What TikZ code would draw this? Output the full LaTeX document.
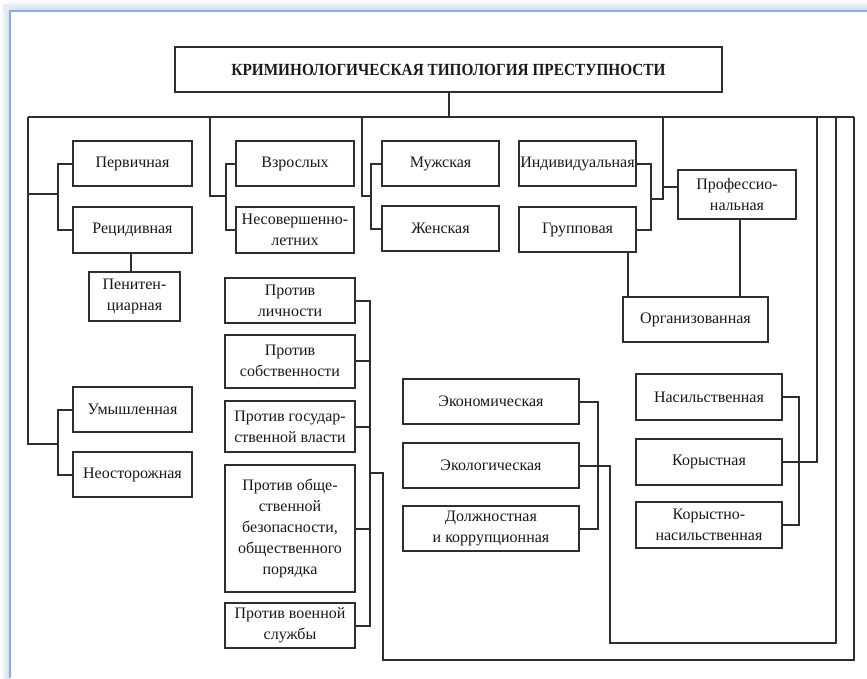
\documentclass[tikz,border=0pt]{standalone}
\usepackage{fontspec}
\setmainfont{Liberation Serif}
\definecolor{ln}{HTML}{2E2E2E}
\definecolor{frm}{HTML}{8FADDC}
\definecolor{glow}{HTML}{D0DEF3}
\begin{document}
\begin{tikzpicture}[x=1pt,y=-1pt,
  bx/.style={draw=ln, line width=2pt, fill=white, align=center, inner sep=1pt,
    font=\fontsize{16}{21}\selectfont, text=black!90},
  cn/.style={draw=ln, line width=2pt}]
\fill[white] (0,0) rectangle (867,678);
\useasboundingbox (0,0) rectangle (867,678);
% page frame with glow
\shade[left color=white, right color=glow] (0,10) rectangle (9,678);
\shade[top color=white, bottom color=glow] (9,0) rectangle (867,10);
\fill[glow!60] (3,4) rectangle (10,11);
\draw[frm, line width=2.4pt] (10,678) -- (10,11) -- (867,11);

% nodes
\node[bx, minimum width=547, minimum height=45] (title) at (448.5,69.5)
  {\fontsize{17}{19}\selectfont\bfseries\scalebox{0.9}[1]{КРИМИНОЛОГИЧЕСКАЯ ТИПОЛОГИЯ ПРЕСТУПНОСТИ}};
\node[bx, minimum width=119, minimum height=45] (perv) at (132.5,163.5) {Первичная};
\node[bx, minimum width=119, minimum height=46] (recid) at (132.5,230) {Рецидивная};
\node[bx, minimum width=91, minimum height=49] (penit) at (134.5,296.5) {Пенитен-\\циарная};
\node[bx, minimum width=119, minimum height=45] (umysh) at (132.5,409.5) {Умышленная};
\node[bx, minimum width=119, minimum height=45] (neost) at (132.5,474.5) {Неосторожная};
\node[bx, minimum width=118, minimum height=45] (vzr) at (295,163.5) {Взрослых};
\node[bx, minimum width=118, minimum height=46] (nesov) at (295,230) {Несовершенно-\\летних};
\node[bx, minimum width=130, minimum height=45] (pl) at (290,300.5) {Против\\личности};
\node[bx, minimum width=130, minimum height=53] (ps) at (290,361) {Против\\собственности};
\node[bx, minimum width=130, minimum height=51] (pg) at (290,426.5) {Против государ-\\ственной власти};
\node[bx, minimum width=130, minimum height=127] (po) at (290,528.5) {Против обще-\\ственной\\безопасности,\\общественного\\порядка};
\node[bx, minimum width=130, minimum height=45] (pv) at (290,625.5) {Против военной\\службы};
\node[bx, minimum width=117, minimum height=45] (muzh) at (440.5,163.5) {Мужская};
\node[bx, minimum width=117, minimum height=45] (zhen) at (440.5,228.5) {Женская};
\node[bx, minimum width=117, minimum height=45] (indiv) at (577.5,163.5) {Индивидуальная};
\node[bx, minimum width=117, minimum height=45] (grupp) at (577.5,229.5) {Групповая};
\node[bx, minimum width=118, minimum height=49] (prof) at (737,194.5) {Профессио-\\нальная};
\node[bx, minimum width=145, minimum height=45] (org) at (695.5,319.5) {Организованная};
\node[bx, minimum width=176, minimum height=45] (econ) at (491,401.5) {Экономическая};
\node[bx, minimum width=176, minimum height=45] (ecol) at (491,465.5) {Экологическая};
\node[bx, minimum width=176, minimum height=45] (dolzh) at (491,528.5) {Должностная\\и коррупционная};
\node[bx, minimum width=146, minimum height=46] (nas) at (709,397) {Насильственная};
\node[bx, minimum width=146, minimum height=46] (kor) at (709,462) {Корыстная};
\node[bx, minimum width=146, minimum height=46] (kornas) at (709,525) {Корыстно-\\насильственная};

% bus coordinates
\coordinate (tl) at (28,117);
\coordinate (tr) at (854,117);
\coordinate (c2) at (210,117);
\coordinate (c3) at (362,117);
\coordinate (c4) at (663,117);
\coordinate (c5) at (817,117);
\coordinate (c6) at (836,117);

% top
\draw[cn] (title.south) -- (title.south |- tl);
\draw[cn] (tl) -- (tr);
% column 1
\draw[cn] (tl) -- (28,444) -- (58,444);
\draw[cn] (28,194) -- (58,194);
\draw[cn] (perv.west) -- (58,163.5) -- (58,230) -- (recid.west);
\draw[cn] (umysh.west) -- (58,409.5) -- (58,474.5) -- (neost.west);
\draw[cn] (penit.north -| 131,0) -- (recid.south -| 131,0);
% column 2
\draw[cn] (c2) -- (210,196) -- (226,196);
\draw[cn] (vzr.west) -- (226,163.5) -- (226,230) -- (nesov.west);
% column 3
\draw[cn] (c3) -- (362,196) -- (371,196);
\draw[cn] (muzh.west) -- (371,163.5) -- (371,228.5) -- (zhen.west);
% column 4
\draw[cn] (indiv.east) -- (651,163.5) -- (651,229.5) -- (grupp.east);
\draw[cn] (c4) -- (663,199) -- (651,199);
\draw[cn] (663,187) -- (prof.west |- 663,187);
\draw[cn] (grupp.south -| 628,0) -- (org.north -| 628,0);
\draw[cn] (prof.south -| 740,0) -- (org.north -| 740,0);
% against bus
\draw[cn] (pl.east) -- (370,300.5) -- (370,625.5) -- (pv.east);
\draw[cn] (ps.east) -- (370,361);
\draw[cn] (pg.east) -- (370,426.5);
\draw[cn] (po.east) -- (370,528.5);
\draw[cn] (370,473) -- (383,473) -- (383,660) -- (854,660) -- (tr);
% economic group
\draw[cn] (econ.east) -- (598,401.5) -- (598,528.5) -- (dolzh.east);
\draw[cn] (ecol.east) -- (610,465.5) -- (610,643) -- (836,643) -- (c6);
% violent group
\draw[cn] (nas.east) -- (799,397) -- (799,525) -- (kornas.east);
\draw[cn] (kor.east) -- (817,462) -- (c5);
\end{tikzpicture}
\end{document}
